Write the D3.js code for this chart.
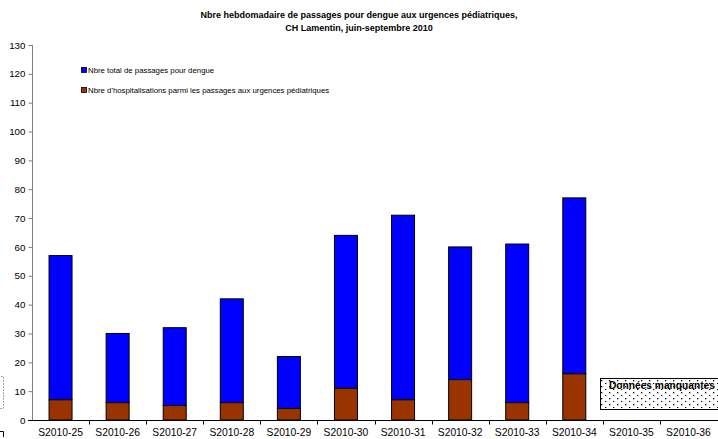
<!DOCTYPE html>
<html><head><meta charset="utf-8">
<script src="https://cdn.jsdelivr.net/npm/d3@7"></script>
<style>body{margin:0;background:#fff}svg{display:block;font-family:"Liberation Sans",Arial,sans-serif}</style>
</head><body>
<script>
const categories = ["S2010-25","S2010-26","S2010-27","S2010-28","S2010-29","S2010-30","S2010-31","S2010-32","S2010-33","S2010-34","S2010-35","S2010-36"];
const totals = [57,30,32,42,22,64,71,60,61,77,null,null];
const hospit = [7,6,5,6,4,11,7,14,6,16,null,null];
const yTicks = [0,10,20,30,40,50,60,70,80,90,100,110,120,130];
const seriesNames = ["Nbre total de passages pour dengue","Nbre d'hospitalisations parmi les passages aux urgences pédiatriques"];
const colors = ["#0000FF","#993300"];
const titleLines = ["Nbre hebdomadaire de passages pour dengue aux urgences pédiatriques,","CH Lamentin, juin-septembre 2010"];
const missingLabel = "Données manquantes";

const W=718,H=439;
const svg=d3.select("body").append("svg").attr("width",W).attr("height",H);
const defs=svg.append("defs");
const pat=defs.append("pattern").attr("id","dots").attr("patternUnits","userSpaceOnUse").attr("width",8).attr("height",6);
pat.append("rect").attr("width",8).attr("height",6).attr("fill","#fff");
pat.append("rect").attr("x",1).attr("y",2).attr("width",1.3).attr("height",1.3).attr("fill","#000");
pat.append("rect").attr("x",5).attr("y",5).attr("width",1.3).attr("height",1.3).attr("fill","#000");

const xb=d3.scaleBand().domain(categories).range([32,717]);
const y=d3.scaleLinear().domain([0,130]).range([420,45]);

// title
svg.append("g").selectAll("text").data(titleLines).join("text")
 .attr("x",359).attr("y",(d,i)=>18+i*12.5).attr("text-anchor","middle")
 .attr("font-size",9).attr("font-weight","bold").text(d=>d);

// bars
const data=categories.map((c,i)=>({c,t:totals[i],h:hospit[i]})).filter(d=>d.t!=null);
const bw=23;
svg.append("g").selectAll("rect").data(data).join("rect")
 .attr("x",d=>xb(d.c)+xb.bandwidth()/2-bw/2).attr("width",bw)
 .attr("y",d=>y(d.t)).attr("height",d=>y(d.h)-y(d.t))
 .attr("fill",colors[0]).attr("stroke","#000").attr("stroke-width",1);
svg.append("g").selectAll("rect").data(data).join("rect")
 .attr("x",d=>xb(d.c)+xb.bandwidth()/2-bw/2).attr("width",bw)
 .attr("y",d=>y(d.h)).attr("height",d=>y(0)-y(d.h))
 .attr("fill",colors[1]).attr("stroke","#000").attr("stroke-width",1);

// y axis
const ya=svg.append("g").attr("transform","translate(32.5,0)")
 .call(d3.axisLeft(y).tickValues(yTicks).tickSize(4).tickPadding(3));
ya.selectAll("path,line").attr("stroke","#7f7f7f");
ya.select(".domain").attr("d","M0,"+y(130)+"V"+y(0)).attr("stroke","#7f7f7f");
ya.selectAll("text").attr("font-size",9.8).attr("font-family","Liberation Sans, Arial, sans-serif").attr("fill","#000");

// x axis
const xa=svg.append("g").attr("transform","translate(0,420.5)");
xa.append("line").attr("x1",28).attr("x2",W).attr("stroke","#000");
xa.selectAll("line.tk").data(categories.slice(1)).join("line").attr("class","tk")
 .attr("x1",d=>Math.round(xb(d))+0.5).attr("x2",d=>Math.round(xb(d))+0.5).attr("y1",0).attr("y2",4).attr("stroke","#000");
xa.selectAll("text").data(categories).join("text")
 .attr("x",d=>xb(d)+xb.bandwidth()/2).attr("y",15.5).attr("text-anchor","middle")
 .attr("font-size",10.3).text(d=>d);

// legend
const lg=svg.append("g");
seriesNames.forEach((n,i)=>{
 lg.append("rect").attr("x",81.5).attr("y",67.5+i*20).attr("width",5).attr("height",5).attr("fill",colors[i]).attr("stroke","#000").attr("stroke-width",0.8);
 lg.append("text").attr("x",88).attr("y",73+i*20).attr("font-size",7.8).text(n);
});

// missing data box
svg.append("rect").attr("x",600.5).attr("y",378.5).attr("width",120).attr("height",31).attr("fill","url(#dots)").attr("stroke","#000");
svg.append("text").attr("x",609).attr("y",389).attr("font-size",10.2).attr("font-weight","bold").text(missingLabel);

// partial left box
svg.append("rect").attr("x",-20).attr("y",376.5).attr("width",23.5).attr("height",32).attr("fill","none").attr("stroke","#aaa").attr("stroke-dasharray","2,1");
svg.append("path").attr("d","M0,431.5H3.5V437").attr("fill","none").attr("stroke","#000");
</script>
</body></html>
